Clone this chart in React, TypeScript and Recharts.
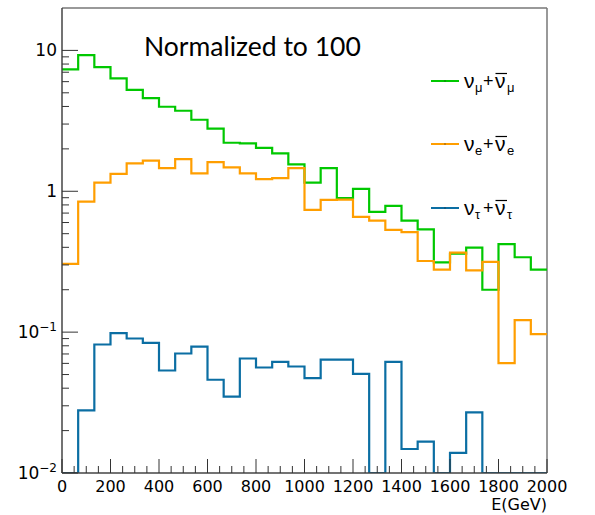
import React from "react";
import { LineChart, Line, XAxis, YAxis, ReferenceLine } from "recharts";

// 30 bins of E(GeV) between 0 and 2000, values normalized to 100
const E_MAX = 2000;
const N_BINS = 30;
const BIN_EDGES = Array.from({ length: N_BINS + 1 }, (_, i) => (i * E_MAX) / N_BINS);

const NUMU = [
  7.33, 9.26, 7.6, 6.33, 5.25, 4.59, 3.98, 3.73, 3.22, 2.78,
  2.21, 2.19, 2.03, 1.86, 1.55, 1.15, 1.46, 0.896, 1.04, 0.713,
  0.787, 0.619, 0.537, 0.313, 0.36, 0.398, 0.2, 0.421, 0.34, 0.278,
];
const NUE = [
  0.305, 0.844, 1.15, 1.33, 1.58, 1.65, 1.46, 1.69, 1.34, 1.61,
  1.48, 1.34, 1.22, 1.24, 1.46, 0.737, 0.868, 0.872, 0.657, 0.619,
  0.532, 0.512, 0.32, 0.278, 0.367, 0.274, 0.315, 0.0603, 0.1216, 0.0968,
];
const NUTAU = [
  0, 0.0278, 0.0817, 0.0984, 0.0901, 0.084, 0.0534, 0.0705, 0.079, 0.0459,
  0.0349, 0.065, 0.0561, 0.0615, 0.057, 0.0472, 0.0639, 0.0639, 0.0506, 0,
  0.0615, 0.0148, 0.0167, 0, 0.0139, 0.0269, 0, 0, 0, 0,
];

const X_LABELS = [0, 200, 400, 600, 800, 1000, 1200, 1400, 1600, 1800, 2000];
const X_MINOR_STEP = 50;
const Y_DECADES = [0.01, 0.1, 1, 10];
const Y_MINOR = [2, 3, 4, 5, 6, 7, 8, 9];

const Y_MIN = 0.01;
const Y_MAX = 20;

const GREEN = "#00c800";
const ORANGE = "#ff9e00";
const BLUE = "#0b6ea3";

const X_TICKS: number[] = [];
for (let v = 0; v <= E_MAX; v += X_MINOR_STEP) X_TICKS.push(v);

const Y_TICKS: number[] = [];
Y_DECADES.forEach((d) => {
  Y_TICKS.push(d);
  Y_MINOR.forEach((m) => {
    const v = +(d * m).toPrecision(3);
    if (v < 10.5 && v < Y_MAX) Y_TICKS.push(v);
  });
});

// empty bins are drawn on the bottom of the frame, like ROOT does
const clip = (v: number) => (v > Y_MIN ? v : Y_MIN);

const rows = BIN_EDGES.map((e, i) => {
  const k = Math.min(i, N_BINS - 1);
  return { e, numu: clip(NUMU[k]), nue: clip(NUE[k]), nutau: clip(NUTAU[k]) };
});

const LABEL_FONT = "'DejaVu Sans', sans-serif";

const XTick = (props: any) => {
  const { x, y, payload } = props;
  const major = X_LABELS.includes(payload.value);
  return (
    <g>
      <line x1={x} x2={x} y1={y} y2={y - (major ? 14 : 7)} stroke="#333" strokeWidth={1} />
      {major && (
        <text x={x} y={y + 19} textAnchor="middle" fontFamily={LABEL_FONT} fontSize={16} fill="#000">
          {payload.value}
        </text>
      )}
    </g>
  );
};

const YTick = (props: any) => {
  const { x, y, payload } = props;
  const exp = Math.round(Math.log10(payload.value));
  const major = Math.abs(Math.log10(payload.value) - exp) < 1e-6;
  let label: React.ReactNode = null;
  if (major) {
    if (exp === 0) label = "1";
    else if (exp === 1) label = "10";
    else
      label = (
        <>
          <tspan>10</tspan>
          <tspan fontSize={12} dy={-7}>{`\u2212${-exp}`}</tspan>
        </>
      );
  }
  return (
    <g>
      <line x1={x} x2={x + (major ? 16 : 7)} y1={y} y2={y} stroke="#333" strokeWidth={1} />
      {major && (
        <text x={x - 5} y={y + 6} textAnchor="end" fontFamily={LABEL_FONT} fontSize={17} fill="#000">
          {label}
        </text>
      )}
    </g>
  );
};

const LEGEND = [
  { color: GREEN, sub: "\u03bc", y: 81 },
  { color: ORANGE, sub: "e", y: 144 },
  { color: BLUE, sub: "\u03c4", y: 208 },
];

const LEG_FONT = "'Liberation Sans', sans-serif";

const Overlay = () => (
  <svg
    width={595}
    height={515}
    style={{ position: "absolute", left: 0, top: 0, pointerEvents: "none" }}
  >
    <text x={144} y={56} fontFamily="Lato, sans-serif" fontSize={26.5} fill="#000">
      Normalized to 100
    </text>
    {LEGEND.map((l) => (
      <g key={l.sub} fontFamily={LEG_FONT} fill="#000">
        <line x1={431} x2={459} y1={l.y} y2={l.y} stroke={l.color} strokeWidth={2} />
        <rect x={444.5} y={l.y - 0.5} width={1} height={1} fill="#222" />
        <text x={464} y={l.y + 7} fontSize={21}>{"\u03bd"}</text>
        <text x={475} y={l.y + 11} fontSize={13}>{l.sub}</text>
        <text x={483} y={l.y + 6} fontSize={18}>+</text>
        <text x={495} y={l.y + 7} fontSize={21}>{"\u03bd"}</text>
        <line x1={495.5} x2={507} y1={l.y - 7.5} y2={l.y - 7.5} stroke="#000" strokeWidth={1.2} />
        <text x={507} y={l.y + 11} fontSize={13}>{l.sub}</text>
      </g>
    ))}
    <text x={547} y={510} textAnchor="end" fontFamily={LABEL_FONT} fontSize={16} fill="#000">
      E(GeV)
    </text>
  </svg>
);

export default function App() {
  return (
    <div style={{ position: "absolute", left: 0, top: 0, width: 595, height: 515, background: "#fff" }}>
      <LineChart width={595} height={515} data={rows} margin={{ top: 8, right: 48, bottom: 0, left: 0 }}>
        <XAxis
          dataKey="e"
          type="number"
          domain={[0, E_MAX]}
          ticks={X_TICKS}
          interval={0}
          tickSize={0}
          tickMargin={0}
          tickLine={false}
          tick={(p: any) => <XTick {...p} />}
          axisLine={{ stroke: "#444", strokeWidth: 1.5 }}
          height={42}
          allowDataOverflow
        />
        <YAxis
          scale="log"
          type="number"
          domain={[Y_MIN, Y_MAX]}
          allowDataOverflow
          ticks={Y_TICKS}
          interval={0}
          tickSize={0}
          tickMargin={0}
          tickLine={false}
          tick={(p: any) => <YTick {...p} />}
          axisLine={{ stroke: "#444", strokeWidth: 1.5 }}
          width={62}
        />
        {/* top and right sides of the frame */}
        <ReferenceLine y={Y_MAX} stroke="#777" strokeWidth={1.5} />
        <ReferenceLine x={E_MAX} stroke="#777" strokeWidth={1.5} />
        <Line type="stepAfter" dataKey="numu" stroke={GREEN} strokeWidth={2.2} dot={false} isAnimationActive={false} />
        <Line type="stepAfter" dataKey="nue" stroke={ORANGE} strokeWidth={2.2} dot={false} isAnimationActive={false} />
        <Line type="stepAfter" dataKey="nutau" stroke={BLUE} strokeWidth={2.2} dot={false} isAnimationActive={false} />
      </LineChart>
      <Overlay />
    </div>
  );
}
